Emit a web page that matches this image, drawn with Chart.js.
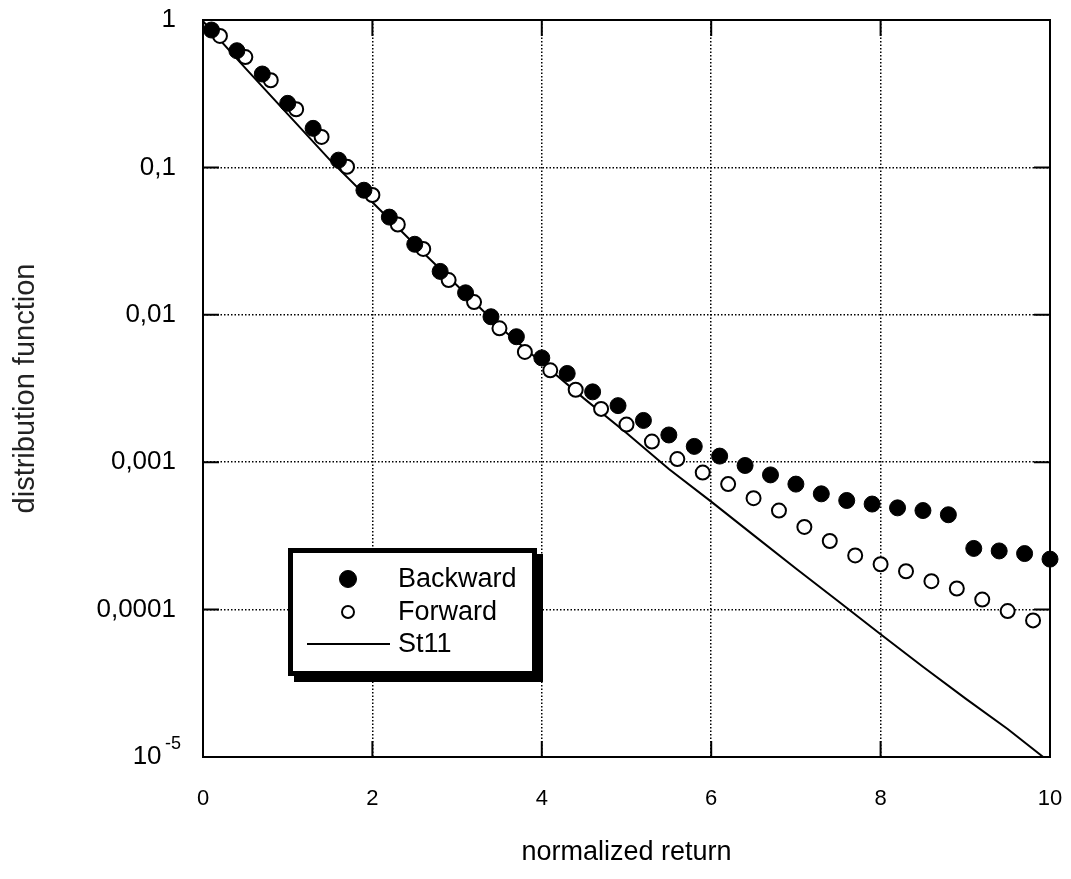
<!DOCTYPE html>
<html>
<head>
<meta charset="utf-8">
<script src="https://cdn.jsdelivr.net/npm/chart.js@4.4.1/dist/chart.umd.min.js"></script>
<style>
  html, body { margin: 0; padding: 0; background: #fff; }
  #wrap { width: 1071px; height: 879px; }
</style>
</head>
<body>
<div id="wrap"><canvas id="chart" width="1071" height="879"></canvas></div>
<script>
// valores
const backX = [0.1, 0.4, 0.7, 1.0, 1.3, 1.6, 1.9, 2.2, 2.5, 2.8, 3.1, 3.4, 3.7, 4.0, 4.3, 4.6, 4.9,
               5.2, 5.5, 5.8, 6.1, 6.4, 6.7, 7.0, 7.3, 7.6, 7.9, 8.2, 8.5, 8.8, 9.1, 9.4, 9.7, 10.0];
const backY = [0.855, 0.619, 0.43, 0.272, 0.184, 0.112, 0.070, 0.046, 0.0301, 0.0197, 0.0141, 0.0097,
               0.0071, 0.0051, 0.0040, 0.0030, 0.00242, 0.00192, 0.00153, 0.00128, 0.00110, 0.00095,
               0.00082, 0.00071, 0.00061, 0.00055, 0.00052, 0.00049, 0.00047, 0.00044, 0.00026,
               0.00025, 0.00024, 0.00022];

const forwX = [0.2, 0.5, 0.8, 1.1, 1.4, 1.7, 2.0, 2.3, 2.6, 2.9, 3.2, 3.5, 3.8, 4.1, 4.4, 4.7, 5.0,
               5.3, 5.6, 5.9, 6.2, 6.5, 6.8, 7.1, 7.4, 7.7, 8.0, 8.3, 8.6, 8.9, 9.2, 9.5, 9.8];
const forwY = [0.78, 0.56, 0.39, 0.248, 0.161, 0.101, 0.065, 0.041, 0.028, 0.0172, 0.0122, 0.0081,
               0.0056, 0.0042, 0.0031, 0.0023, 0.0018, 0.00138, 0.00105, 0.00085, 0.00071, 0.00057,
               0.00047, 0.000364, 0.000292, 0.000233, 0.000203, 0.000182, 0.000156, 0.000139,
               0.000117, 0.0000977, 0.0000845];

const stX = [0, 0.5, 1.0, 1.5, 2.0, 2.5, 3.0, 3.5, 4.0, 4.5, 5.0, 5.5, 6.0, 6.5, 7.0, 7.5, 8.0,
             8.5, 9.0, 9.5, 9.92];
const stY = [0.98, 0.472, 0.23, 0.112, 0.058, 0.030, 0.0158, 0.0083, 0.00473, 0.0027, 0.00158,
             0.0009, 0.00054, 0.00032, 0.00019, 0.000114, 0.000068, 0.000041, 0.000025,
             0.0000155, 0.00001];

const yTicks = [1, 0.1, 0.01, 0.001, 0.0001, 0.00001];
const yLabels = ['1', '0,1', '0,01', '0,001', '0,0001', '10  '];
const yExpo = '-5';   // exponente del ultimo rotulo (10^-5)
const xTicks = [0, 2, 4, 6, 8, 10];

const toPts = (xs, ys) => xs.map((x, i) => ({ x: x, y: ys[i] }));

// marco negro, marcas interiores y exponente
const marcoPlugin = {
    id: 'marco',
    beforeDatasetsDraw(chart) {
        const { ctx, chartArea: a, scales } = chart;
        ctx.save();
        ctx.strokeStyle = '#000';
        ctx.lineWidth = 2;
        ctx.strokeRect(a.left, a.top, a.right - a.left, a.bottom - a.top);
        const L = 16;
        ctx.beginPath();
        xTicks.forEach(v => {
            const px = scales.x.getPixelForValue(v);
            ctx.moveTo(px, a.bottom); ctx.lineTo(px, a.bottom - L);
            ctx.moveTo(px, a.top); ctx.lineTo(px, a.top + L);
        });
        yTicks.forEach(v => {
            const py = scales.y.getPixelForValue(v);
            ctx.moveTo(a.left, py); ctx.lineTo(a.left + L, py);
            ctx.moveTo(a.right, py); ctx.lineTo(a.right - L, py);
        });
        ctx.stroke();

        // superindice del 10^-5
        const pyMin = scales.y.getPixelForValue(yTicks[yTicks.length - 1]);
        ctx.fillStyle = '#000';
        ctx.font = '18px "Liberation Sans", Arial, sans-serif';
        ctx.textAlign = 'left';
        ctx.textBaseline = 'middle';
        ctx.fillText(yExpo, a.left - 38, pyMin - 13);
        ctx.restore();
    }
};

// leyenda con caja y sombra
const leyendaPlugin = {
    id: 'leyenda',
    afterDatasetsDraw(chart) {
        const { ctx, chartArea: a } = chart;
        const x0 = a.left + 85, y0 = a.top + 528, w = 249, h = 128;
        ctx.save();
        ctx.fillStyle = '#000';
        ctx.fillRect(x0 + 6, y0 + 6, w, h);
        ctx.fillRect(x0, y0, w, h);
        ctx.fillStyle = '#fff';
        ctx.fillRect(x0 + 5, y0 + 5, w - 10, h - 10);

        const rows = [y0 + 31, y0 + 64, y0 + 96];
        const mx = x0 + 60, tx = x0 + 110;
        chart.data.datasets.forEach((ds, i) => {
            const yy = rows[i];
            if (ds.showLine) {
                ctx.strokeStyle = '#000';
                ctx.lineWidth = 2;
                ctx.beginPath();
                ctx.moveTo(x0 + 19, yy); ctx.lineTo(x0 + 102, yy);
                ctx.stroke();
            } else {
                ctx.beginPath();
                ctx.arc(mx, yy, ds.legendRadius, 0, Math.PI * 2);
                ctx.fillStyle = ds.backgroundColor;
                ctx.fill();
                ctx.lineWidth = ds.borderWidth;
                ctx.strokeStyle = ds.borderColor;
                ctx.stroke();
            }
            ctx.fillStyle = '#000';
            ctx.font = '27px "Liberation Sans", Arial, sans-serif';
            ctx.textBaseline = 'middle';
            ctx.textAlign = 'left';
            ctx.fillText(ds.label, tx, yy + 1);
        });
        ctx.restore();
    }
};

const ctx = document.getElementById('chart').getContext('2d');
new Chart(ctx, {
    type: 'scatter',
    data: {
        datasets: [
            {
                label: 'Backward',
                data: toPts(backX, backY),
                backgroundColor: '#000',
                borderColor: '#000',
                borderWidth: 1,
                pointRadius: 8,
                legendRadius: 8.5,
                order: 0,
                clip: false
            },
            {
                label: 'Forward',
                data: toPts(forwX, forwY),
                backgroundColor: '#fff',
                borderColor: '#000',
                borderWidth: 2,
                pointRadius: 7,
                legendRadius: 6,
                order: 1,
                clip: false
            },
            {
                label: 'St11',
                data: toPts(stX, stY),
                showLine: true,
                borderColor: '#000',
                borderWidth: 2,
                pointRadius: 0,
                tension: 0,
                order: 2
            }
        ]
    },
    options: {
        responsive: false,
        animation: false,
        layout: { padding: { top: 20, right: 21, left: 0, bottom: 0 } },
        plugins: {
            legend: { display: false },
            tooltip: { enabled: false }
        },
        scales: {
            x: {
                type: 'linear',
                min: 0,
                max: 10,
                afterFit: s => { s.height = 122; s.paddingLeft = 0; s.paddingRight = 0; },
                afterBuildTicks: s => { s.ticks = xTicks.map(v => ({ value: v })); },
                ticks: {
                    padding: 29,
                    color: '#000',
                    font: { family: '"Liberation Sans", Arial, sans-serif', size: 22 }
                },
                grid: {
                    drawTicks: false,
                    lineWidth: 1.5,
                    color: c => (c.tick && (c.tick.value === 0 || c.tick.value === 10)) ? 'rgba(0,0,0,0)' : '#000'
                },
                border: { display: false, dash: [1.5, 2] },
                title: {
                    display: true,
                    text: 'normalized return',
                    color: '#000',
                    padding: { top: 0, bottom: 10 },
                    font: { family: '"Liberation Sans", Arial, sans-serif', size: 27 }
                }
            },
            y: {
                type: 'logarithmic',
                min: 0.00001,
                max: 1,
                afterFit: s => { s.width = 203; s.paddingTop = 0; s.paddingBottom = 0; },
                afterBuildTicks: s => { s.ticks = yTicks.map(v => ({ value: v })); },
                ticks: {
                    padding: 27,
                    color: '#000',
                    font: { family: '"Liberation Sans", Arial, sans-serif', size: 26 },
                    callback: (v) => {
                        const i = yTicks.findIndex(t => Math.abs(Math.log10(t) - Math.log10(v)) < 1e-6);
                        return i >= 0 ? yLabels[i] : '';
                    }
                },
                grid: {
                    drawTicks: false,
                    lineWidth: 1.5,
                    color: c => (c.tick && (c.tick.value === 1 || c.tick.value === 0.00001)) ? 'rgba(0,0,0,0)' : '#000'
                },
                border: { display: false, dash: [1.5, 2] },
                title: {
                    display: true,
                    text: 'distribution function',
                    color: '#222',
                    padding: { top: 9, bottom: 0 },
                    font: { family: '"Liberation Sans", Arial, sans-serif', size: 29 }
                }
            }
        }
    },
    plugins: [marcoPlugin, leyendaPlugin]
});
</script>
</body>
</html>
